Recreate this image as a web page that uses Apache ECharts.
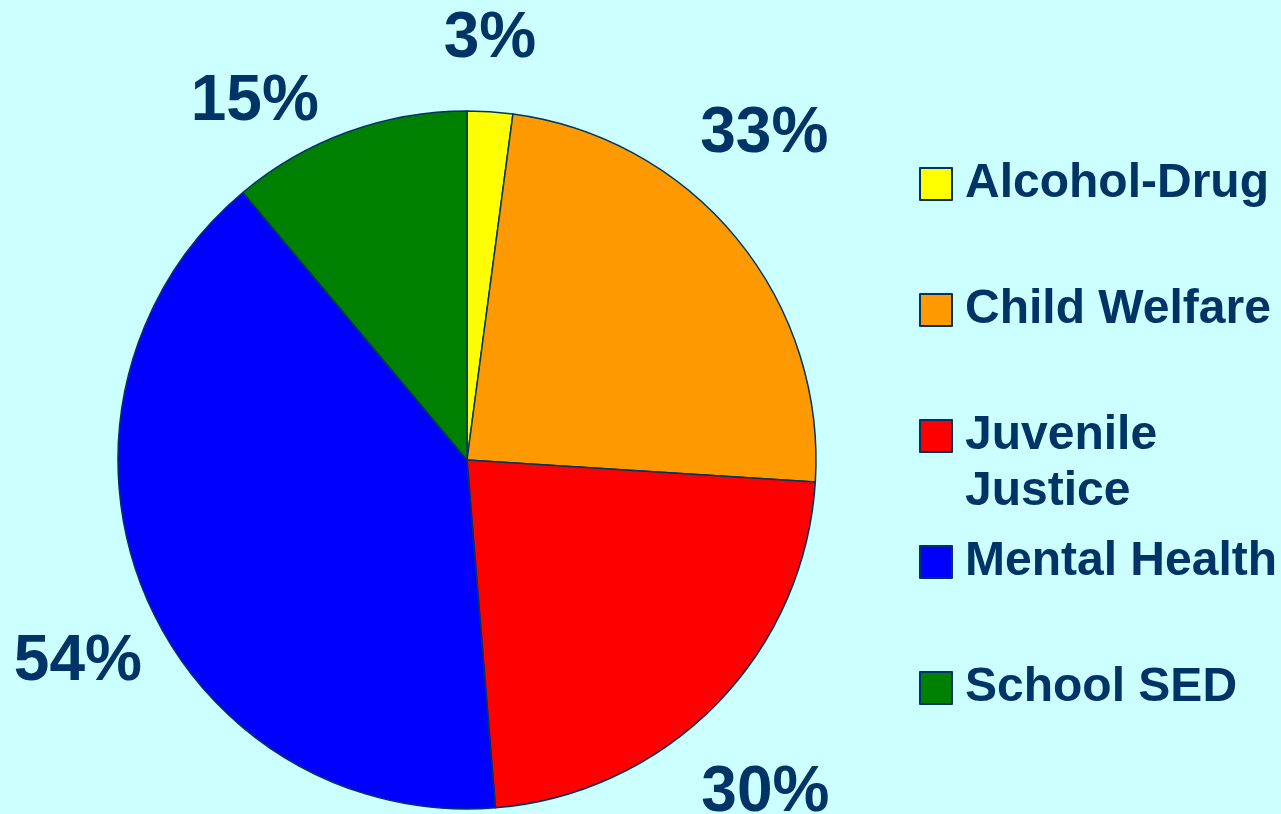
<!DOCTYPE html>
<html>
<head>
<meta charset="utf-8">
<script src="https://cdn.jsdelivr.net/npm/echarts@6/dist/echarts.min.js"></script>
<style>
  html, body { margin: 0; padding: 0; background: #ccffff; }
  #chart { width: 1281px; height: 814px; }
</style>
</head>
<body>
<div id="chart"></div>
<script>
// ---- data ----
const categories = ['Alcohol-Drug', 'Child Welfare', 'Juvenile Justice', 'Mental Health', 'School SED'];
// printed percentage labels
const labelPercents = [3, 33, 30, 54, 15];
// slice shares as drawn (share of the whole pie, %)
const sliceShares = [2.1, 23.9, 22.7, 40.2, 11.1];
const legendLabels = ['Alcohol-Drug', 'Child Welfare', '\nJuvenile\nJustice', 'Mental Health', 'School SED'];

// ---- styles ----
const colors = ['#ffff00', '#ff9900', '#ff0000', '#0000ff', '#008000'];
const textColor = '#003366';
const labelShift = [[-10, 3], [-36, -56], [-10, 36], [9, 41], [-62, 42]];
const legendTops = [156, 282, 352, 534, 660];

const chart = echarts.init(document.getElementById('chart'), null, { renderer: 'canvas' });

const legends = categories.map((name, i) => ({
  data: [name],
  left: 919,
  top: legendTops[i],
  padding: 0,
  orient: 'vertical',
  icon: 'rect',
  itemWidth: 32,
  itemHeight: 32,
  selectedMode: false,
  itemStyle: { borderColor: textColor, borderWidth: 2 },
  formatter: () => legendLabels[i],
  textStyle: {
    fontFamily: 'Liberation Sans, Arial, sans-serif',
    fontWeight: 'bold',
    fontSize: 48,
    lineHeight: 56,
    color: textColor,
    padding: [0, 0, 0, 8]
  }
}));

chart.setOption({
  backgroundColor: '#ccffff',
  animation: false,
  color: colors,
  legend: legends,
  series: [{
    type: 'pie',
    center: [467, 460],
    radius: 349,
    startAngle: 90,
    clockwise: true,
    avoidLabelOverlap: false,
    data: categories.map((c, i) => ({ name: c, value: sliceShares[i] })),
    itemStyle: { borderColor: textColor, borderWidth: 1.5 },
    label: {
      show: true,
      position: 'outside',
      formatter: (p) => labelPercents[p.dataIndex] + '%',
      fontFamily: 'Liberation Sans, Arial, sans-serif',
      fontWeight: 'bold',
      fontSize: 64,
      color: textColor,
      bleedMargin: -400
    },
    labelLine: { show: false, length: 76, length2: 0 },
    labelLayout: (params) => ({
      align: 'center',
      dx: labelShift[params.dataIndex][0],
      dy: labelShift[params.dataIndex][1]
    }),
    emphasis: { disabled: true }
  }]
});
</script>
</body>
</html>
